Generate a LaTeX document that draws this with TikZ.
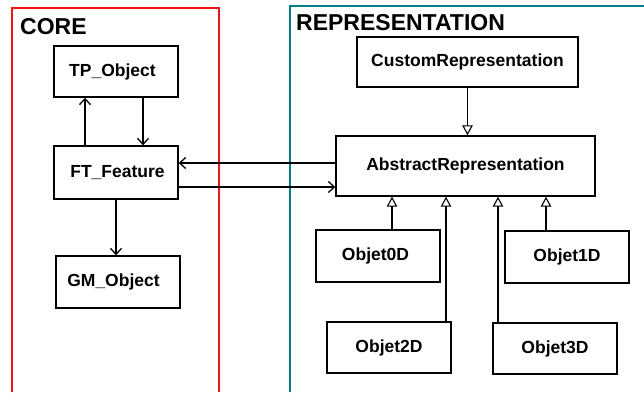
\documentclass[tikz,border=0pt]{standalone}
\usepackage{fontspec}
\setmainfont{Liberation Sans}
\usetikzlibrary{arrows.meta}
\definecolor{framered}{RGB}{240,20,20}
\definecolor{frameteal}{RGB}{0,128,128}
\begin{document}
\begin{tikzpicture}[x=1pt,y=-1pt,
  cls/.style={draw,line width=1.4pt,minimum width=124pt,minimum height=51pt,
    inner sep=0pt,font=\bfseries\fontsize{17.5}{20}\selectfont},
  title/.style={anchor=base west,inner sep=0pt,font=\bfseries\fontsize{23}{26}\selectfont},
  assoc/.style={line width=1.3pt,-{Straight Barb[length=6pt,width=11pt,line width=1.3pt]}},
  inherit/.style={line width=1.3pt,-{Triangle[open,length=10pt,width=10.5pt,line width=1.1pt]},fill=white}]
\useasboundingbox (0,0) rectangle (644,392);

% package frames, open at the bottom (and on the right for the second one)
\draw[framered,line width=2pt] (12,392) -- (12,8) -- (219,8) -- (219,392);
\draw[frameteal,line width=2pt] (290,392) -- (290,6) -- (644,6);
\node[title] (core) at (20,34) {CORE};
\node[title] (repr) at (296,30) {REPRESENTATION};

% CORE classes
\node[cls] (tp) at (116,71.5) {TP\_Object\hspace*{7pt}};
\node[cls,minimum height=53pt] (ft) at (116,172.5) {\hspace*{3pt}FT\_Feature};
\node[cls,minimum height=52pt] (gm) at (118,282) {GM\_Object\hspace*{9pt}};

% REPRESENTATION classes
\node[cls,minimum width=221pt,minimum height=50pt] (custom) at (467.5,62) {CustomRepresentation};
\node[cls,minimum width=259pt,minimum height=60pt] (abstract) at (465.5,166) {AbstractRepresentation};
\node[cls,minimum height=52pt] (o0) at (378,256) {Objet0D\hspace*{5pt}};
\node[cls,minimum height=52pt] (o1) at (567,257) {Objet1D};
\node[cls] (o2) at (389,347.5) {Objet2D};
\node[cls] (o3) at (555,348.5) {Objet3D};

% associations
\draw[assoc] ([xshift=-31pt]ft.north) -- ([xshift=-31pt]tp.south);
\draw[assoc] ([xshift=27pt]tp.south) -- ([xshift=27pt]ft.north);
\draw[assoc] (ft.south) -- (ft.south |- gm.north);
\draw[assoc] ([yshift=3pt]abstract.west) -- ([yshift=3pt]abstract.west -| ft.east);
\draw[assoc] ([yshift=-14.5pt]ft.east) -- ([yshift=-14.5pt]ft.east -| abstract.west);

% generalisations
\draw[inherit] (custom.south) -- (custom.south |- abstract.north);
\draw[inherit] ([xshift=14pt]o0.north) -- ([xshift=14pt]o0.north |- abstract.south);
\draw[inherit] ([xshift=-21pt]o1.north) -- ([xshift=-21pt]o1.north |- abstract.south);
\draw[inherit] ([xshift=57pt]o2.north) -- ([xshift=57pt]o2.north |- abstract.south);
\draw[inherit] ([xshift=-57pt]o3.north) -- ([xshift=-57pt]o3.north |- abstract.south);
\end{tikzpicture}
\end{document}
